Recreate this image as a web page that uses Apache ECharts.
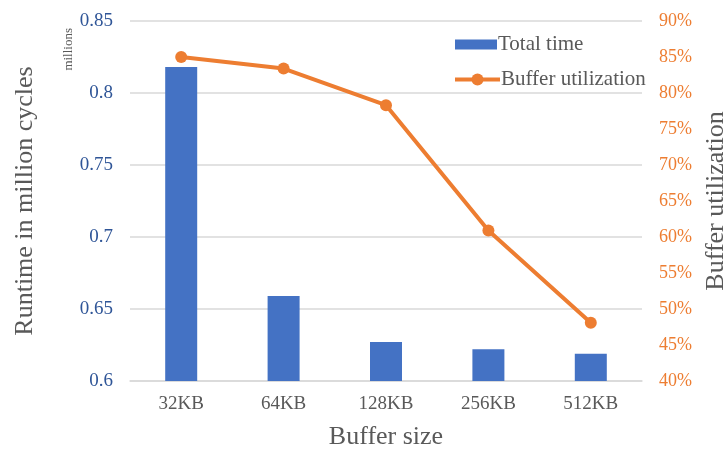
<!DOCTYPE html>
<html>
<head>
<meta charset="utf-8">
<script src="https://cdn.jsdelivr.net/npm/echarts@6/dist/echarts.min.js"></script>
<style>
  html, body { margin: 0; padding: 0; background: #fff; }
  #chart { width: 727px; height: 450px; }
</style>
</head>
<body>
<div id="chart"></div>
<script>
// Buffer sizes on the x axis
const bufferSizes = ['32KB', '64KB', '128KB', '256KB', '512KB'];
// Total runtime, in millions of cycles
const totalTime = [0.818, 0.659, 0.627, 0.622, 0.619];
// Buffer utilization, in percent
const bufferUtilization = [85.0, 83.4, 78.3, 60.9, 48.1];

const SERIF = '"Liberation Serif", "Times New Roman", serif';
const BLUE = '#4472C4';
const ORANGE = '#ED7D31';
const GRAY = '#595959';

const chart = echarts.init(document.getElementById('chart'), null, { renderer: 'canvas' });

const legendText = { fontFamily: SERIF, fontSize: 21, color: GRAY, padding: [0, 0, 0, -4] };

chart.setOption({
  animation: false,
  textStyle: { fontFamily: SERIF },
  grid: { left: 130, right: 85, top: 21, bottom: 69, outerBoundsMode: 'none', containLabel: false },
  legend: [
    {
      left: 450,
      top: 29,
      itemWidth: 42,
      itemHeight: 10,
      textStyle: legendText,
      data: [{ name: 'Total time', icon: 'rect' }]
    },
    {
      left: 448,
      top: 64,
      itemWidth: 45,
      itemHeight: 15,
      textStyle: legendText,
      lineStyle: { width: 4 },
      data: [{ name: 'Buffer utilization' }]
    }
  ],
  xAxis: {
    type: 'category',
    data: bufferSizes,
    name: 'Buffer size',
    nameLocation: 'middle',
    nameGap: 43,
    nameTextStyle: { fontFamily: SERIF, fontSize: 26, color: GRAY },
    axisLine: { lineStyle: { color: '#D9D9D9', width: 1.5 } },
    axisTick: { show: false },
    axisLabel: { fontFamily: SERIF, fontSize: 19, color: GRAY, margin: 14 }
  },
  yAxis: [
    {
      type: 'value',
      min: 0.6,
      max: 0.85,
      interval: 0.05,
      name: 'Runtime in million cycles',
      nameLocation: 'middle',
      nameGap: 92,
      nameTextStyle: { fontFamily: SERIF, fontSize: 26, color: GRAY },
      axisLine: { show: false },
      axisTick: { show: false },
      axisLabel: {
        fontFamily: SERIF, fontSize: 19, color: '#2F5597', margin: 17,
        formatter: v => String(Math.round(v * 100) / 100)
      },
      splitLine: { lineStyle: { color: '#D9D9D9', width: 1.5 } }
    },
    {
      type: 'value',
      min: 40,
      max: 90,
      interval: 5,
      name: 'Buffer utilization',
      nameLocation: 'middle',
      nameGap: 60,
      nameTextStyle: { fontFamily: SERIF, fontSize: 26, color: GRAY },
      axisLine: { show: false },
      axisTick: { show: false },
      axisLabel: { fontFamily: SERIF, fontSize: 18, color: ORANGE, margin: 17, formatter: '{value}%' },
      splitLine: { show: false }
    }
  ],
  graphic: [
    {
      type: 'text',
      left: 62,
      top: 28,
      rotation: Math.PI / 2,
      style: { text: 'millions', fontFamily: SERIF, fontSize: 13, fill: GRAY }
    }
  ],
  series: [
    {
      name: 'Total time',
      type: 'bar',
      yAxisIndex: 0,
      data: totalTime,
      barWidth: 32,
      itemStyle: { color: BLUE }
    },
    {
      name: 'Buffer utilization',
      type: 'line',
      yAxisIndex: 1,
      data: bufferUtilization,
      symbol: 'circle',
      symbolSize: 12,
      lineStyle: { color: ORANGE, width: 4 },
      itemStyle: { color: ORANGE }
    }
  ]
});
</script>
</body>
</html>
